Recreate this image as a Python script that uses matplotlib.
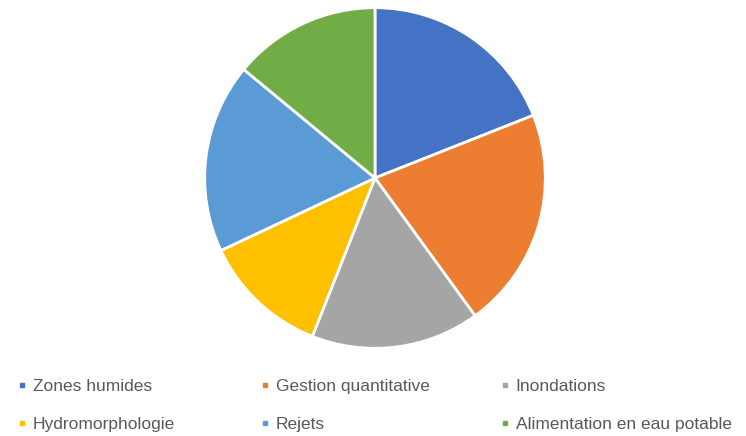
import matplotlib.pyplot as plt
from matplotlib.lines import Line2D

plt.rcParams["font.family"] = ["Liberation Sans", "DejaVu Sans"]

labels = [
    "Zones humides",
    "Gestion quantitative",
    "Inondations",
    "Hydromorphologie",
    "Rejets",
    "Alimentation en eau potable",
]
values = [19, 21, 16, 12, 18, 14]
colors = ["#4472C4", "#ED7D31", "#A5A5A5", "#FFC000", "#5B9BD5", "#70AD47"]

fig = plt.figure(figsize=(7.46, 4.36), dpi=100)

# pie area (pixels: centre ~ (375,178), radius ~172)
ax = fig.add_axes([203 / 746, (436 - 350) / 436, 344 / 746, 344 / 436])
ax.pie(
    values,
    colors=colors,
    startangle=90,
    counterclock=False,
    radius=1,
    wedgeprops=dict(edgecolor="white", linewidth=2),
)
ax.set_xlim(-1.01, 1.01)
ax.set_ylim(-1.01, 1.01)
ax.set_aspect("equal")
ax.axis("off")

# legend in three columns, row-major order like the Excel original
col_x = [18 / 746, 261 / 746, 501 / 746]
for c in range(3):
    idx = [c, c + 3]
    handles = [
        Line2D([], [], marker="s", linestyle="none", markersize=3.5,
               markerfacecolor=colors[i], markeredgecolor=colors[i])
        for i in idx
    ]
    fig.legend(
        handles,
        [labels[i] for i in idx],
        loc="upper left",
        bbox_to_anchor=(col_x[c], 1 - 379 / 436),
        frameon=False,
        fontsize=12.5,
        labelcolor="#595959",
        handlelength=0.5,
        handletextpad=0.35,
        labelspacing=1.33,
        borderpad=0,
        borderaxespad=0,
    )

fig.savefig("out.png", dpi=100)
